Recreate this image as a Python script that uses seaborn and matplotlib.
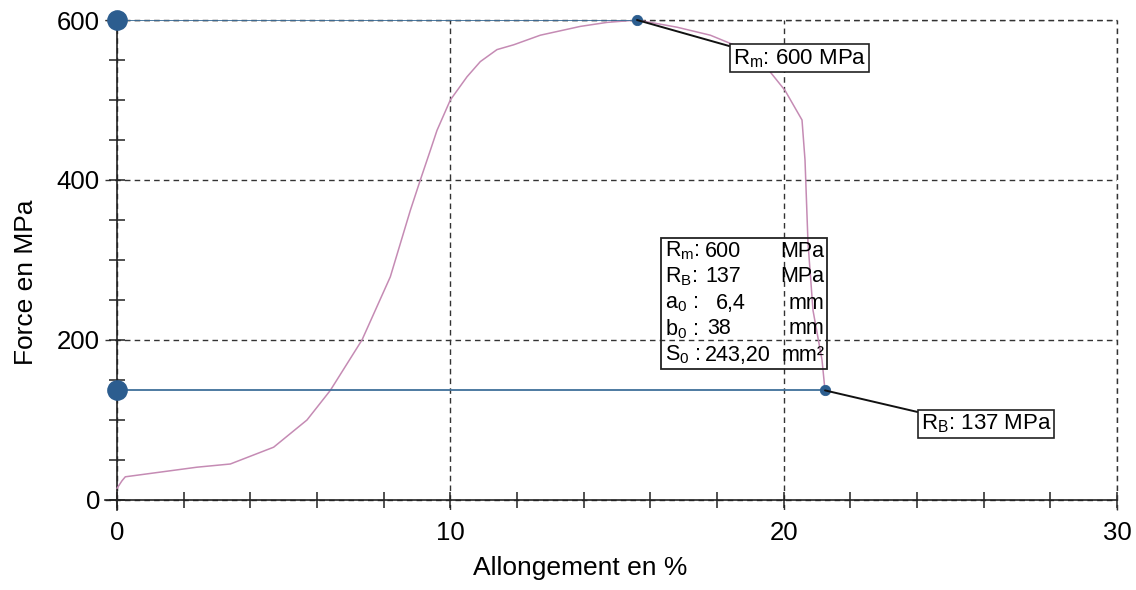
import numpy as np
import pandas as pd
import matplotlib
matplotlib.use("Agg")
import matplotlib.pyplot as plt
import seaborn as sns
from matplotlib.patches import Rectangle
from matplotlib.ticker import MultipleLocator

# ---------------- data ----------------
elongation_pct = [0.0, 0.0, 0.15, 0.25, 2.4, 3.4, 4.7, 5.7, 6.4, 7.35, 8.2, 8.8,
                  9.1, 9.4, 9.6, 10.0, 10.5, 10.9, 11.4, 11.9, 12.7, 13.9, 14.7,
                  15.6, 16.8, 17.8, 18.5, 19.5, 20.04, 20.55, 20.64, 20.73, 20.88,
                  21.15, 21.24]
stress_mpa = [0, 29, 24, 29, 41, 45, 66, 100, 137, 200, 279, 362,
              400, 437, 462, 500, 529, 548, 563, 569, 581, 592, 597,
              600, 591, 581, 569, 540, 512, 475, 425, 321, 237,
              175, 137]

rm_value = 600      # MPa
rm_elong = 15.6     # %
rb_value = 137      # MPa
rb_elong = 21.24    # %

info_labels = [r"R$_\mathrm{m}$:", r"R$_\mathrm{B}$:", r"a$_\mathrm{0}$ :", r"b$_\mathrm{0}$ :", r"S$_\mathrm{0}$ :"]
info_values = ["600", "137", "6,4", "38", "243,20"]
info_units = ["MPa", "MPa", "mm", "mm", "mm²"]

x_major = [0, 10, 20, 30]
y_major = [0, 200, 400, 600]

# ---------------- style ----------------
sns.set_style("white")
plt.rcParams['font.family'] = ['Liberation Sans', 'DejaVu Sans']
plt.rcParams['mathtext.fontset'] = 'custom'
plt.rcParams['mathtext.rm'] = 'Liberation Sans'
plt.rcParams['mathtext.it'] = 'Liberation Sans:italic'
plt.rcParams['mathtext.bf'] = 'Liberation Sans:bold'
plt.rcParams['text.color'] = 'black'
plt.rcParams['axes.labelcolor'] = 'black'
plt.rcParams['xtick.color'] = 'black'
plt.rcParams['ytick.color'] = 'black'

curve_color = "#c58bb4"
blue = "#2c5d8f"
line_blue = "#3f6f9a"
ink = "#222222"
grid_style = dict(color='#333333', linestyle=(0, (4, 3)), linewidth=1.0)

fig = plt.figure(figsize=(11.36, 5.9), dpi=100)
ax = fig.add_axes([0.0924, 0.1356, 0.8909, 0.8305])

ax.set_xlim(-0.36, 30)
ax.set_ylim(-12.5, 600)

# grid
ax.set_xticks(x_major)
ax.set_yticks(y_major)
ax.xaxis.set_minor_locator(MultipleLocator(2))
ax.yaxis.set_minor_locator(MultipleLocator(50))
ax.grid(True, which='major', **grid_style)
ax.set_axisbelow(True)
# edge grid lines (right and top) drawn unclipped so they are fully visible
ax.axvline(x_major[-1], clip_on=False, zorder=1, **grid_style)
ax.axhline(y_major[-1], clip_on=False, zorder=1, **grid_style)

# spines
for s in ['top', 'right']:
    ax.spines[s].set_visible(False)
ax.spines['left'].set_position(('data', 0))
ax.spines['bottom'].set_position(('data', 0))
for s in ['left', 'bottom']:
    ax.spines[s].set_color(ink)
    ax.spines[s].set_linewidth(1.2)

ax.tick_params(axis='both', which='both', direction='inout', length=11.5, width=1.1,
               color=ink, labelsize=18.5, bottom=True, left=True, labelcolor='black')
ax.tick_params(axis='y', which='major', pad=6.5)
ax.tick_params(axis='x', which='major', pad=9.5)

# curve
df = pd.DataFrame({"Allongement": elongation_pct, "Force": stress_mpa})
sns.lineplot(data=df, x="Allongement", y="Force", sort=False, color=curve_color,
             linewidth=1.1, ax=ax, zorder=3)

# reference horizontal lines
ax.hlines([rm_value, rb_value], 0, [rm_elong, rb_elong], color=line_blue, linewidth=1.3, zorder=4)

# dots
big = pd.DataFrame({"x": [0, 0], "y": [rm_value, rb_value]})
small = pd.DataFrame({"x": [rm_elong, rb_elong], "y": [rm_value, rb_value]})
sns.scatterplot(data=big, x="x", y="y", s=190, color=blue, edgecolor=blue, ax=ax,
                zorder=6, clip_on=False, legend=False)
sns.scatterplot(data=small, x="x", y="y", s=55, color=blue, edgecolor=blue, ax=ax,
                zorder=6, clip_on=False, legend=False)

# annotations
ax.annotate(r"R$_\mathrm{m}$: %d MPa" % rm_value, xy=(rm_elong, rm_value), xytext=(20.48, 552),
            ha='center', va='center', fontsize=16,
            bbox=dict(boxstyle='square,pad=0.12', fc='white', ec=ink, lw=1.2),
            arrowprops=dict(arrowstyle='-', color='#111111', lw=1.4, shrinkA=0, shrinkB=0,
                            relpos=(0, 1)), zorder=7)
ax.annotate(r"R$_\mathrm{B}$: %d MPa" % rb_value, xy=(rb_elong, rb_value), xytext=(26.07, 95),
            ha='center', va='center', fontsize=16,
            bbox=dict(boxstyle='square,pad=0.1', fc='white', ec=ink, lw=1.2),
            arrowprops=dict(arrowstyle='-', color='#111111', lw=1.4, shrinkA=0, shrinkB=0,
                            relpos=(0, 1)), zorder=7)

# info box (transparent, grid and curve show through)
ax.add_patch(Rectangle((16.32, 164), 21.3 - 16.32, 327.5 - 164, fill=False, ec=ink,
                       lw=1.3, zorder=5))
row_y = [311, 279, 246, 214, 181]
val_x = [17.65, 17.65, 18.4, 18.05, 17.65]
val_ha = ['left', 'left', 'center', 'center', 'left']
for lab, val, unit, yy, vx, vh in zip(info_labels, info_values, info_units, row_y, val_x, val_ha):
    ax.text(16.45, yy, lab, ha='left', va='center', fontsize=15.5, zorder=6)
    ax.text(vx, yy, val, ha=vh, va='center', fontsize=15.5, zorder=6)
    ax.text(21.22, yy, unit, ha='right', va='center', fontsize=15.5, zorder=6)

ax.set_xlabel("Allongement en %", fontsize=19)
ax.set_ylabel("Force en MPa", fontsize=19)
ax.xaxis.set_label_coords((580 - 105) / 1012, -0.094)
ax.yaxis.set_label_coords(-0.066, 0.465)

fig.savefig("out.png", dpi=100)
